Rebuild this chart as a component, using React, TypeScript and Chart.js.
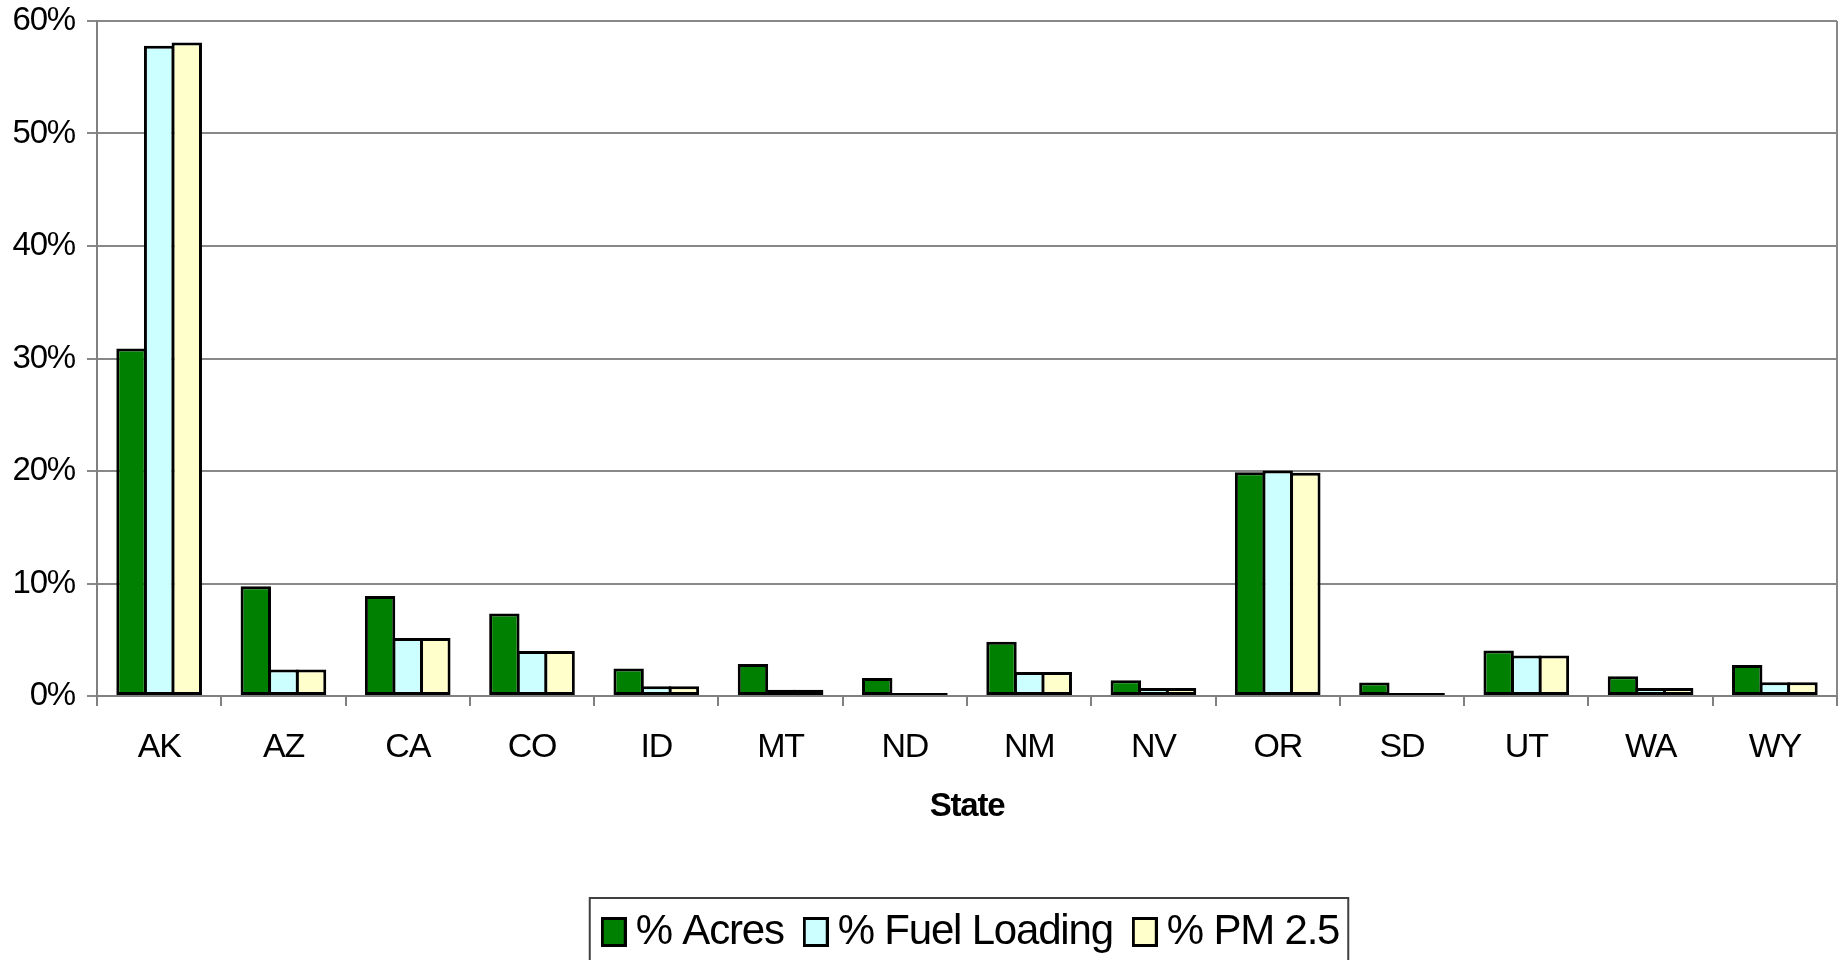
import React, { useEffect, useRef } from 'react';
import { Chart, registerables } from 'chart.js';

Chart.register(...registerables);

const states = ['AK', 'AZ', 'CA', 'CO', 'ID', 'MT', 'ND', 'NM', 'NV', 'OR', 'SD', 'UT', 'WA', 'WY'];
const acres = [30.9, 9.75, 8.9, 7.33, 2.45, 2.85, 1.6, 4.82, 1.4, 19.9, 1.2, 4.05, 1.75, 2.75];
const fuelLoading = [57.8, 2.35, 5.15, 4.0, 0.87, 0.56, 0.15, 2.13, 0.72, 20.05, 0.1, 3.6, 0.72, 1.22];
const pm25 = [58.1, 2.35, 5.15, 4.0, 0.87, 0.56, 0.15, 2.13, 0.72, 19.85, 0.1, 3.6, 0.72, 1.22];
const seriesNames = ['% Acres', '% Fuel Loading', '% PM 2.5'];
const seriesColors = ['#008000', '#CCFFFF', '#FFFFCC'];
const yMax = 60;
const yStep = 10;
const xTitle = 'State';

const FONT = '"Liberation Sans", Arial, sans-serif';
const LETTER_SPACING = '-1.2px';

function makeMarker(color: string) {
  const c = document.createElement('canvas');
  c.width = 26;
  c.height = 30;
  const g = c.getContext('2d')!;
  g.fillStyle = color;
  g.fillRect(0, 0, 26, 30);
  g.strokeStyle = '#000';
  g.lineWidth = 3;
  g.strokeRect(1.5, 1.5, 23, 27);
  return c;
}

const spacingPlugin = {
  id: 'spacing',
  beforeLayout(chart: any) {
    (chart.ctx as any).letterSpacing = LETTER_SPACING;
  },
  afterLayout(chart: any) {
    const lg = chart.legend;
    if (lg) {
      lg.left += 9;
      lg.right += 9;
    }
  },
  beforeDraw(chart: any) {
    (chart.ctx as any).letterSpacing = LETTER_SPACING;
  },
};

const framePlugin = {
  id: 'frame',
  afterDraw(chart: any) {
    const { ctx, chartArea, legend } = chart;
    ctx.save();
    ctx.strokeStyle = '#888';
    ctx.lineWidth = 2;
    ctx.beginPath();
    ctx.moveTo(chartArea.right, chartArea.top);
    ctx.lineTo(chartArea.right, chartArea.bottom);
    ctx.stroke();
    const boxes = legend && legend.legendHitBoxes;
    if (boxes && boxes.length) {
      let l = Infinity, r = -Infinity, t = Infinity;
      boxes.forEach((b: any) => {
        l = Math.min(l, b.left);
        r = Math.max(r, b.left + b.width);
        t = Math.min(t, b.top);
      });
      ctx.strokeStyle = '#404040';
      ctx.lineWidth = 2;
      ctx.strokeRect(l - 23, t - 13, r - l + 32, 120);
    }
    ctx.restore();
  },
};

export default function App() {
  const ref = useRef<HTMLCanvasElement | null>(null);

  useEffect(() => {
    document.body.style.margin = '0';
    document.body.style.overflow = 'hidden';
    const canvas = ref.current;
    if (!canvas) return;
    const data = [acres, fuelLoading, pm25];
    const markers = seriesColors.map(makeMarker);
    const chart = new Chart(canvas, {
      type: 'bar',
      data: {
        labels: states,
        datasets: seriesNames.map((name, i) => ({
          label: name,
          data: data[i],
          backgroundColor: seriesColors[i],
          borderColor: '#000',
          borderWidth: 3,
          borderSkipped: false,
          minBarLength: 3,
          categoryPercentage: 0.667,
          barPercentage: 1.1,
        })),
      },
      options: {
        responsive: false,
        animation: false,
        devicePixelRatio: 1,
        layout: { padding: { top: 21, right: 5, left: 0, bottom: -3 } },
        plugins: {
          tooltip: { enabled: false },
          legend: {
            position: 'bottom',
            fullSize: false,
            labels: {
              font: { family: FONT, size: 42 },
              color: '#000',
              usePointStyle: true,
              pointStyleWidth: 2,
              boxHeight: 30,
              padding: 31,
              generateLabels: (ch: any) =>
                Chart.defaults.plugins.legend.labels
                  .generateLabels(ch)
                  .map((it: any, i: number) => ({ ...it, pointStyle: markers[i] })),
            },
          },
        },
        scales: {
          x: {
            grid: {
              display: true,
              drawOnChartArea: false,
              drawTicks: true,
              tickLength: 10,
              color: '#808080',
              lineWidth: 2,
              offset: true,
            },
            border: { display: true, color: '#808080', width: 2 },
            ticks: {
              font: { family: FONT, size: 34 },
              color: '#000',
              padding: 21,
              maxRotation: 0,
              autoSkip: false,
            },
            title: {
              display: true,
              text: xTitle,
              font: { family: FONT, size: 33, weight: 'bold' },
              color: '#000',
              padding: { top: 0, bottom: 53 },
            },
            afterFit: (s: any) => {
              s.height = 184;
              s.paddingLeft = 0;
              s.paddingRight = 0;
            },
          },
          y: {
            min: 0,
            max: yMax,
            ticks: {
              stepSize: yStep,
              callback: (v: any) => v + '%',
              font: { family: FONT, size: 33 },
              color: '#000',
              padding: 12,
            },
            grid: { color: '#888', lineWidth: 2, tickLength: 10, drawTicks: true },
            border: { display: true, color: '#808080', width: 2 },
            afterFit: (s: any) => {
              s.width = 97;
              s.paddingTop = 0;
              s.paddingBottom = 0;
            },
          },
        },
      },
      plugins: [spacingPlugin, framePlugin],
    } as any);
    return () => chart.destroy();
  }, []);

  return (
    <div style={{ width: 1842, height: 960, background: '#fff' }}>
      <canvas ref={ref} width={1842} height={960} style={{ display: 'block' }} />
    </div>
  );
}
